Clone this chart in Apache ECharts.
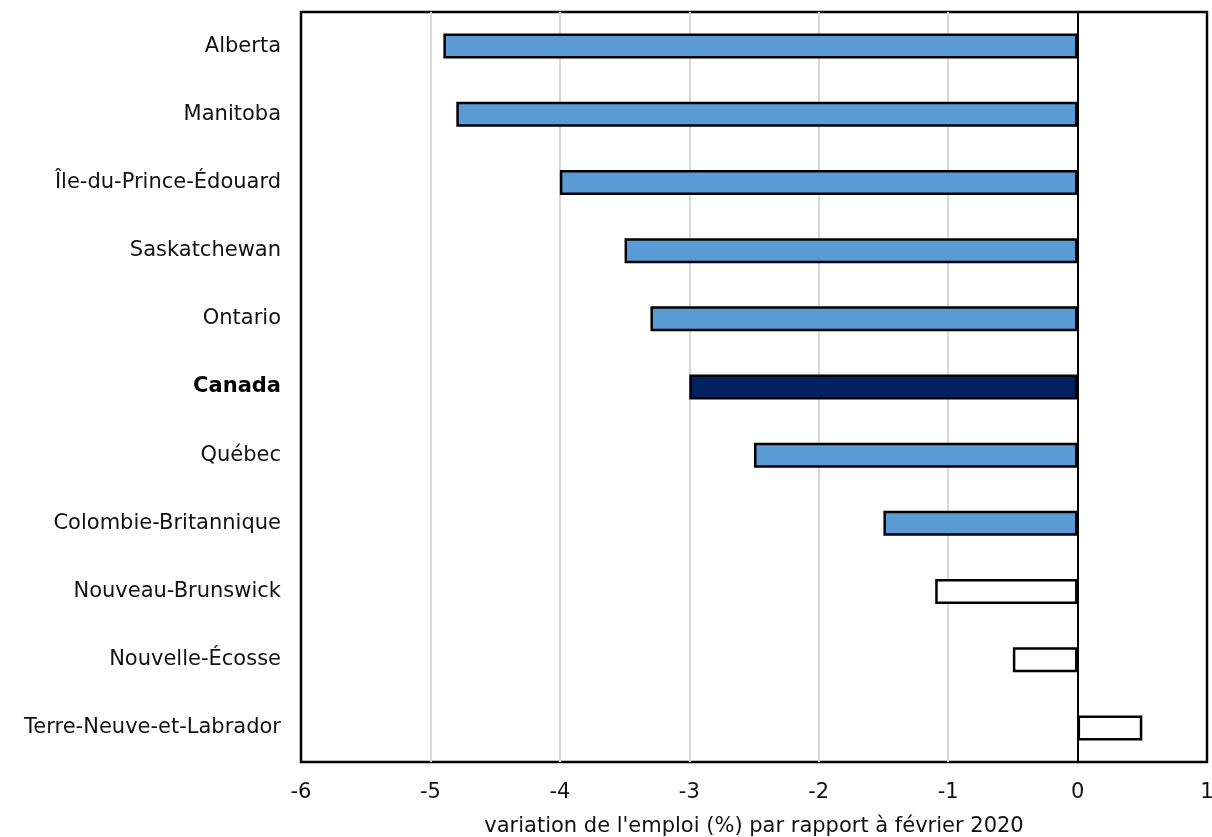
<!DOCTYPE html>
<html><head><meta charset="utf-8">
<script src="https://cdn.jsdelivr.net/npm/echarts@6/dist/echarts.min.js"></script>
<style>html,body{margin:0;padding:0;background:#fff}#c{width:1212px;height:837px}</style>
</head><body><div id="c"></div>
<script>
const categories = ["Alberta","Manitoba","Île-du-Prince-Édouard","Saskatchewan","Ontario","Canada","Québec","Colombie-Britannique","Nouveau-Brunswick","Nouvelle-Écosse","Terre-Neuve-et-Labrador"];
const values = [-4.9,-4.8,-4.0,-3.5,-3.3,-3.0,-2.5,-1.5,-1.1,-0.5,0.5];
const barColors = ["#5b9bd5","#5b9bd5","#5b9bd5","#5b9bd5","#5b9bd5","#002060","#5b9bd5","#5b9bd5","#ffffff","#ffffff","#ffffff"];
const xTicks = [-6,-5,-4,-3,-2,-1,0,1];
const xTitle = "variation de l'emploi (%) par rapport à février 2020";

const chart = echarts.init(document.getElementById('c'), null, {renderer:'canvas'});
const font = "DejaVu Sans";
const fs = 21;
chart.setOption({
  animation:false,
  grid:{left:301,right:5,top:12,bottom:75,outerBoundsMode:'none',containLabel:false,show:true,borderColor:'#000',borderWidth:2.5,backgroundColor:'transparent'},
  xAxis:{type:'value',min:xTicks[0],max:xTicks[xTicks.length-1],interval:1,
    name:xTitle,nameLocation:'middle',nameGap:54,
    nameTextStyle:{fontFamily:font,fontSize:fs,color:'#111'},
    axisLine:{show:false},axisTick:{show:false},
    axisLabel:{fontFamily:font,fontSize:fs,color:'#111',margin:20},
    splitLine:{show:true,showMinLine:false,showMaxLine:false,lineStyle:{color:'#d9d9d9',width:2}}},
  yAxis:{type:'category',data:categories,inverse:true,
    axisLine:{show:true,onZero:true,lineStyle:{color:'#000',width:2}},
    axisTick:{show:false},
    axisLabel:{fontFamily:font,fontSize:fs,color:'#111',margin:20,
      formatter:function(v){return v==='Canada'?'{b|'+v+'}':v;},
      rich:{b:{fontFamily:font,fontSize:fs,fontWeight:'bold',color:'#000'}}},
    position:'left'},
  series:[{type:'bar',barWidth:25,
    data:values.map((v,i)=>({value:v,itemStyle:{color:barColors[i],borderColor:'#000',borderWidth:2.5}})),
    z:1}]
});
</script></body></html>
